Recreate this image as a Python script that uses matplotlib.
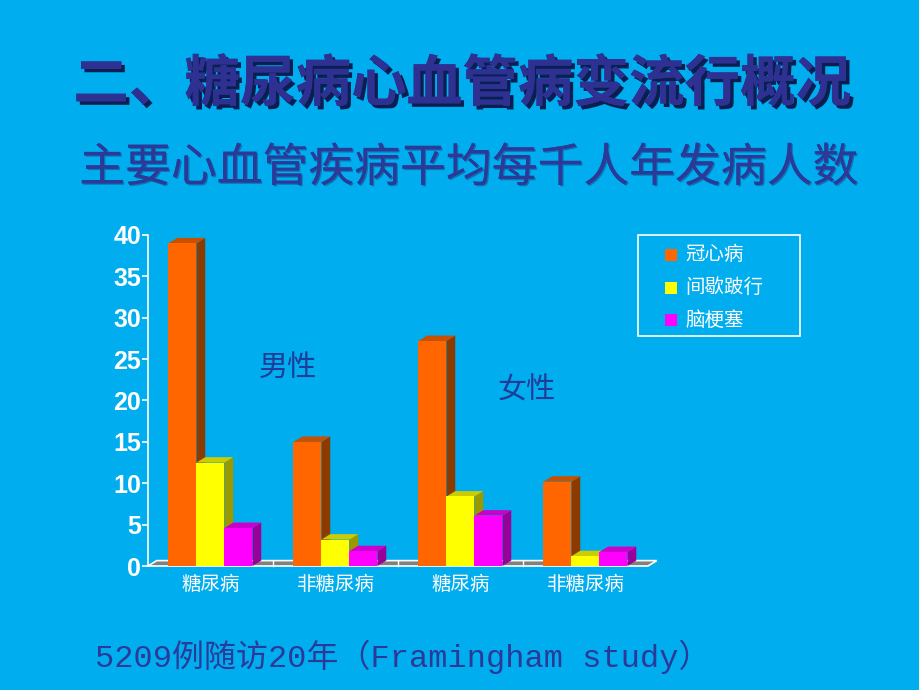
import matplotlib
matplotlib.use("Agg")
import matplotlib.pyplot as plt
from matplotlib.patches import Polygon, Rectangle
import matplotlib.patheffects as pe

# --- data ---
categories = ["糖尿病", "非糖尿病", "糖尿病", "非糖尿病"]
series_names = ["冠心病", "间歇跛行", "脑梗塞"]
chd = [39, 15, 27.2, 10.2]          # 冠心病
claudication = [12.5, 3.2, 8.4, 1.2]  # 间歇跛行
stroke = [4.6, 1.8, 6.1, 1.7]        # 脑梗塞
yticks = [0, 5, 10, 15, 20, 25, 30, 35, 40]

# --- style ---
BG = "#00AEEF"
NAVY = "#2E3192"
CJK = ["Noto Sans CJK SC", "DejaVu Sans"]
front_cols = ["#FF6600", "#FFFF00", "#FF00FF"]
side_cols = ["#8B3A00", "#9A9A00", "#990099"]
top_cols = ["#C85000", "#CCCC00", "#CC00CC"]

fig = plt.figure(figsize=(9.2, 6.9), dpi=100, facecolor=BG)
ax = fig.add_axes([148 / 920, 124 / 690, 500 / 920, 331 / 690])
ax.set_facecolor("none")

bw = 0.224
dx, dy = 0.07, 0.65
xs = list(range(len(categories)))

# floor
floor = Polygon([(-0.5, 0), (3.5, 0), (3.5 + dx, dy), (-0.5 + dx, dy)],
                closed=True, facecolor="#808080", edgecolor="white", lw=1.2,
                zorder=1, clip_on=False)
ax.add_patch(floor)
for b in [0.5, 1.5, 2.5]:
    ax.plot([b, b], [0, dy], color="white", lw=1, zorder=1.5, clip_on=False)

# 3D-ish bars
all_series = [chd, claudication, stroke]
for k, vals in enumerate(all_series):
    off = (k - 1) * bw
    z = 3 + k
    bars = ax.bar([x + off for x in xs], vals, width=bw, color=front_cols[k],
                  edgecolor="none", zorder=z + 0.5, clip_on=False)
    for rect, h in zip(bars, vals):
        x0 = rect.get_x()
        x1 = x0 + bw
        side = Polygon([(x1, 0), (x1 + dx, dy), (x1 + dx, h + dy), (x1, h)],
                       closed=True, facecolor=side_cols[k], edgecolor="none",
                       zorder=z, clip_on=False)
        top = Polygon([(x0, h), (x0 + dx, h + dy), (x1 + dx, h + dy), (x1, h)],
                      closed=True, facecolor=top_cols[k], edgecolor="none",
                      zorder=z, clip_on=False)
        ax.add_patch(side)
        ax.add_patch(top)

ax.set_xlim(-0.5, 3.5)
ax.set_ylim(0, 40)
ax.set_xticks(xs)
ax.set_xticklabels(categories, family=CJK, fontsize=14, color="white")
ax.tick_params(axis="x", length=0, pad=6)
ax.set_yticks(yticks)
ax.set_yticklabels([str(t) for t in yticks], family="Liberation Sans",
                   fontweight="bold", fontsize=18, color="white")
ax.tick_params(axis="y", length=4, width=1.2, color="white", pad=1)
for s in ["top", "right", "bottom"]:
    ax.spines[s].set_visible(False)
ax.spines["left"].set_color("white")
ax.spines["left"].set_linewidth(1.2)

# group labels
ax.text(0.62, 24, "男性", family=CJK, fontsize=21, color="#1F3C99",
        ha="center", va="center")
ax.text(2.53, 21.2, "女性", family=CJK, fontsize=21, color="#1F3C99",
        ha="center", va="center")

# legend (manual box)
fig.patches.append(Rectangle((638 / 920, 1 - 336 / 690), 162 / 920, 101 / 690,
                             transform=fig.transFigure, facecolor="none",
                             edgecolor="white", lw=1.2))
for k, name in enumerate(series_names):
    yc = 1 - (255 + k * 32.5) / 690
    fig.patches.append(Rectangle((665 / 920, yc - 6 / 690), 12 / 920, 12 / 690,
                                 transform=fig.transFigure,
                                 facecolor=front_cols[k], edgecolor="none"))
    fig.text(685 / 920, yc, name, family=CJK, fontsize=14, color="white",
             va="center", ha="left")

# titles
shadow = [pe.withSimplePatchShadow(offset=(2.5, -2.5), shadow_rgbFace="#0a1040",
                                   alpha=0.9), pe.Normal()]
fig.text(0.502, 1 - 85 / 690, "二、糖尿病心血管病变流行概况", family=CJK,
         fontsize=40, fontweight="bold", color=NAVY, ha="center", va="center",
         path_effects=shadow)
fig.text(0.51, 1 - 168 / 690, "主要心血管疾病平均每千人年发病人数", family=CJK,
         fontsize=33, color="#2B3A99", ha="center", va="center",
         path_effects=[pe.withSimplePatchShadow(offset=(1, -1),
                                                shadow_rgbFace="#1a2060",
                                                alpha=0.4), pe.Normal()])
fig.text(95 / 920, 1 - 657 / 690, "5209例随访20年（Framingham study）",
         family=["Liberation Mono", "Noto Sans CJK SC"], fontsize=23,
         color="#2B3A99", ha="left", va="center")

fig.savefig("out.png", dpi=100, facecolor=BG)
